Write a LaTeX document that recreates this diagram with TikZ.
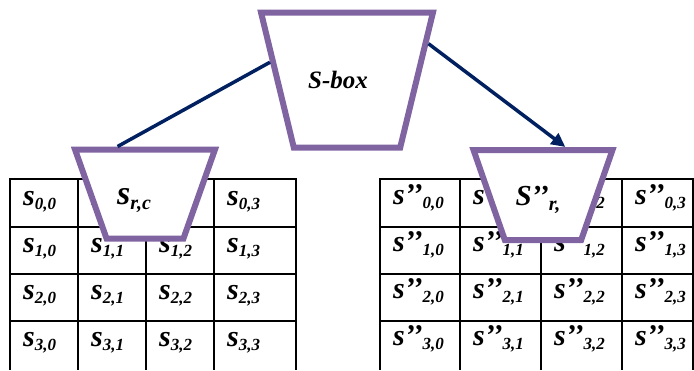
\documentclass[tikz,border=0pt]{standalone}
\usepackage{fontspec}
\setmainfont{Liberation Serif}
\usetikzlibrary{shapes.geometric, arrows.meta}
\definecolor{boxpurple}{HTML}{8064A2}
\definecolor{linknavy}{HTML}{002060}
\newcommand{\ent}[3][30]{{\fontsize{#1}{#1}\selectfont #2}\raisebox{-4pt}{\fontsize{17}{17}\selectfont #3}}

\tikzset{
  sboxshape/.style={trapezium, shape border rotate=180, trapezium stretches=true,
    draw=boxpurple, fill=white, line width=6pt, inner sep=2pt},
  gridline/.style={line width=2pt},
  cell/.style={anchor=base west, inner sep=0pt, font=\bfseries\itshape},
  link/.style={draw=linknavy, line width=3.5pt}
}

\begin{document}
\begin{tikzpicture}[x=1pt, y=-1pt]
  \useasboundingbox (0,0) rectangle (694,370);
  % state before substitution
  \foreach \y in {179,226.5,273.5,320.5} \draw[gridline] (9,\y) -- (297,\y);
  \foreach \x in {10,78,146,214,296} \draw[gridline] (\x,178) -- (\x,370);
  \foreach \r/\y in {0/179,1/226.5,2/273.5,3/320.5}
    \foreach \c/\x in {0/10,1/78,2/146,3/214}
      \node[cell] (s-\r-\c) at (\x+13,\y+26) {\ent{s}{\r,\c}};
  % state after substitution
  \foreach \y in {179,226.5,273.5,320.5} \draw[gridline] (379,\y) -- (694,\y);
  \foreach \x in {380,460,541,622,693} \draw[gridline] (\x,178) -- (\x,370);
  \foreach \r/\y in {0/179,1/226.5,2/273.5,3/320.5}
    \foreach \c/\x in {0/380,1/460,2/541,3/622}
      \node[cell] (t-\r-\c) at (\x+13,\y+25) {\ent{s’’}{\r,\c}};

  \node[sboxshape, minimum width=172pt, minimum height=135pt, trapezium angle=72.9] (sbox) at (347,80) {};
  \node[font=\bfseries\itshape\fontsize{25}{25}\selectfont] (sbox-lbl) at (338,80) {S-box};
  \node[sboxshape, minimum width=140pt, minimum height=89pt, trapezium angle=67.7] (sin) at (145,194) {};
  \node[font=\bfseries\itshape, inner sep=0pt] (sin-lbl) at (134,201)
    {{\fontsize{34}{34}\selectfont s}\raisebox{-5pt}{\fontsize{20}{20}\selectfont r,c}};
  \node[sboxshape, minimum width=139pt, minimum height=90pt, trapezium angle=67.7] (sout) at (543,195) {};
  \node[font=\bfseries\itshape, inner sep=0pt] (sout-lbl) at (538,200)
    {{\fontsize{29}{29}\selectfont S’’}\raisebox{-5pt}{\fontsize{20}{20}\selectfont r,}};

  \draw[link] (sbox.167) -- (sin.120);
  \draw[link, -{Triangle[length=14pt, width=13pt]}] (sbox.24) -- (sout.65);
\end{tikzpicture}
\end{document}
